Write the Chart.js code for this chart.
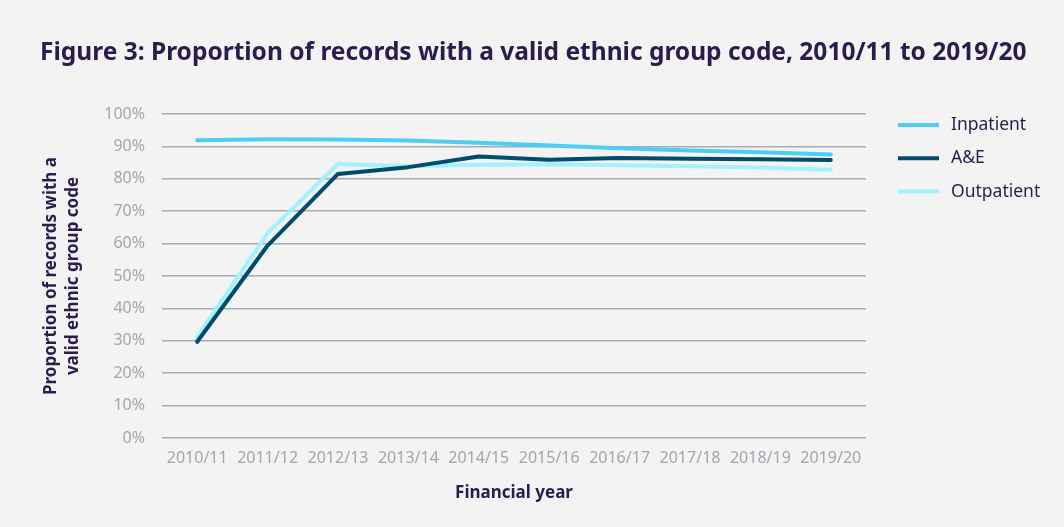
<!DOCTYPE html>
<html>
<head>
<meta charset="utf-8">
<script src="https://cdn.jsdelivr.net/npm/chart.js@4.4.1/dist/chart.umd.min.js"></script>
<style>
  html, body { margin: 0; padding: 0; background: #f3f3f3; }
  #wrap { width: 1064px; height: 527px; position: relative; }
</style>
</head>
<body>
<div id="wrap"><canvas id="ethnicChart" width="1064" height="527"></canvas></div>
<script>
// Chart data
const years = ['2010/11', '2011/12', '2012/13', '2013/14', '2014/15', '2015/16', '2016/17', '2017/18', '2018/19', '2019/20'];
const inpatient = [91.9, 92.2, 92.1, 91.8, 91.1, 90.3, 89.4, 88.7, 88.2, 87.5];
const aAndE = [29.7, 59.4, 81.5, 83.6, 86.9, 85.9, 86.4, 86.2, 86.0, 85.8];
const outpatient = [31.2, 63.2, 84.6, 83.9, 84.3, 84.5, 84.2, 83.9, 83.5, 82.8];
const yTicks = [0, 10, 20, 30, 40, 50, 60, 70, 80, 90, 100];

const chartTitle = 'Figure 3: Proportion of records with a valid ethnic group code, 2010/11 to 2019/20';
const ink = '#2b1c4d';
const tickGrey = '#a3a5af';

function makeSeries(label, data, colour) {
    return {
        label: label,
        data: data,
        borderColor: colour,
        backgroundColor: colour,
        borderWidth: 4,
        pointRadius: 0,
        pointHoverRadius: 0,
        tension: 0,
        borderCapStyle: 'round',
        borderJoinStyle: 'round'
    };
}

// Title and right-hand legend drawn by hand: the built-in title gets squeezed
// into the plot width because of the big right padding
const headerAndLegend = {
    id: 'headerAndLegend',
    afterDraw(chart) {
        const ctx = chart.ctx;
        ctx.save();
        ctx.textBaseline = 'middle';
        ctx.fillStyle = ink;
        ctx.font = 'bold 24.5px "Noto Sans"';
        ctx.fillText(chartTitle, 40, 53.5);

        ctx.font = '17.5px "Noto Sans"';
        chart.data.datasets.forEach(function(ds, i) {
            const y = 125 + i * 33.3;
            ctx.strokeStyle = ds.borderColor;
            ctx.lineWidth = 4;
            ctx.beginPath();
            ctx.moveTo(898, y);
            ctx.lineTo(939, y);
            ctx.stroke();
            ctx.fillStyle = ink;
            ctx.fillText(ds.label, 951, y);
        });
        ctx.restore();
    }
};

const ctx = document.getElementById('ethnicChart').getContext('2d');
new Chart(ctx, {
    type: 'line',
    data: {
        labels: years,
        datasets: [
            makeSeries('Inpatient', inpatient, '#4ccdf4'),
            makeSeries('A&E', aAndE, '#004b6e'),
            makeSeries('Outpatient', outpatient, '#a0f3fd')
        ]
    },
    options: {
        responsive: false,
        animation: false,
        layout: { padding: { left: 40, right: 198, top: 114, bottom: 0 } },
        plugins: {
            legend: { display: false },
            tooltip: { enabled: false },
            title: { display: false }
        },
        scales: {
            x: {
                offset: true,
                grid: { display: false, drawTicks: false },
                border: { display: false },
                ticks: {
                    color: tickGrey,
                    font: { family: '"Noto Sans"', size: 16 },
                    padding: 11,
                    maxRotation: 0,
                    autoSkip: false
                },
                title: {
                    display: true,
                    text: 'Financial year',
                    color: ink,
                    font: { family: '"Noto Sans"', size: 17, weight: 'bold' },
                    padding: { top: 0, bottom: 24 }
                },
                afterFit(scale) { scale.height = 89; }
            },
            y: {
                min: 0,
                max: 100,
                afterBuildTicks(scale) {
                    scale.ticks = yTicks.map(function(v) { return { value: v }; });
                },
                grid: { color: '#a9abb3', lineWidth: 1.5, drawTicks: false },
                border: { display: false },
                ticks: {
                    color: tickGrey,
                    font: { family: '"Noto Sans"', size: 16 },
                    padding: 17,
                    callback: function(v) { return v + '%'; }
                },
                title: {
                    display: true,
                    text: ['Proportion of records with a', 'valid ethnic group code'],
                    color: ink,
                    font: { family: '"Noto Sans"', size: 17, weight: 'bold', lineHeight: 1.3 },
                    padding: { top: 0, bottom: 0 }
                },
                afterFit(scale) { scale.width = 122; }
            }
        }
    },
    plugins: [headerAndLegend]
});
</script>
</body>
</html>
